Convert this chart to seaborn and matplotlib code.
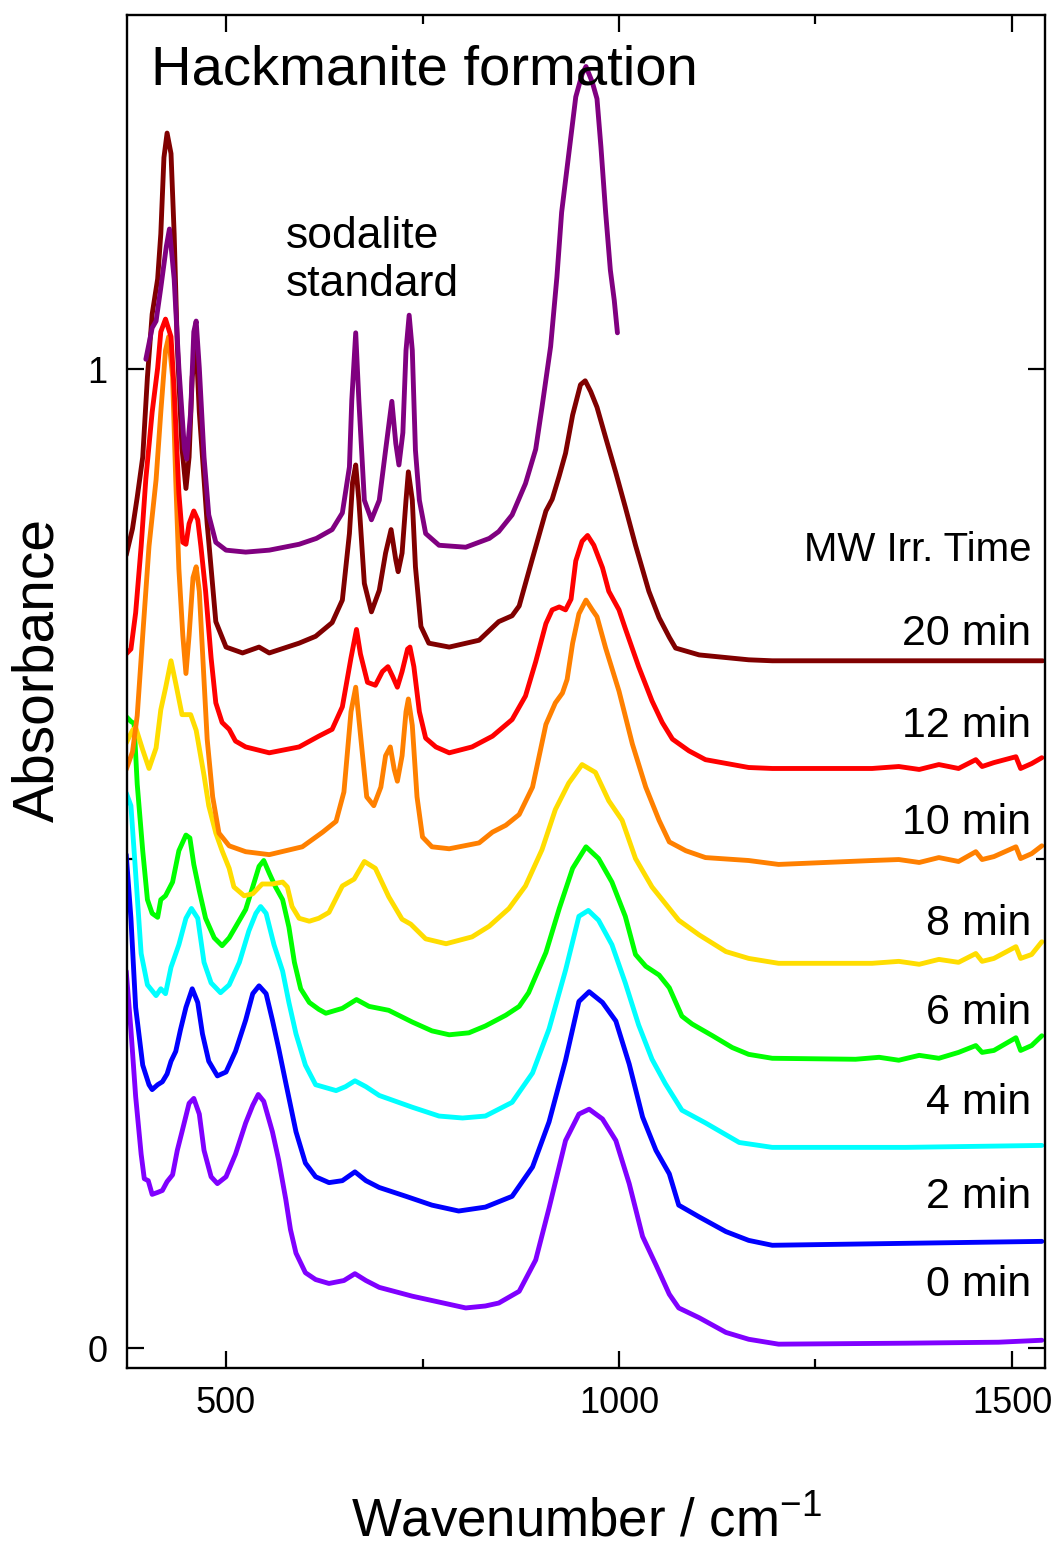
import numpy as np
import pandas as pd
import matplotlib
matplotlib.use("Agg")
import matplotlib.pyplot as plt
import seaborn as sns

# -----------------------------
# DATA (wavenumber / cm-1, absorbance)
# -----------------------------
wn_std = [398, 406, 411, 417, 424, 428, 434, 440, 447, 450, 455, 459, 462, 466, 472, 478, 487, 500, 525, 555,
          593, 615, 635, 648, 657, 660, 665, 669, 676, 685, 695, 703, 711, 716, 720, 725, 729, 733, 737, 741,
          746, 754, 771, 805, 835, 847, 864, 881, 894, 902, 913, 921, 927, 936, 945, 953, 958, 966, 972, 977,
          983, 989, 994, 998]
abs_std = [1.010, 1.042, 1.049, 1.083, 1.125, 1.143, 1.092, 1.001, 0.919, 0.908, 0.956, 1.038, 1.049, 1.001, 0.910,
           0.851, 0.823, 0.815, 0.813, 0.815, 0.821, 0.827, 0.836, 0.853, 0.900, 0.968, 1.037, 0.968, 0.866, 0.846,
           0.866, 0.917, 0.967, 0.924, 0.902, 0.935, 1.019, 1.055, 1.019, 0.917, 0.866, 0.832, 0.820, 0.818, 0.827,
           0.834, 0.851, 0.883, 0.918, 0.961, 1.023, 1.094, 1.160, 1.219, 1.278, 1.301, 1.309, 1.293, 1.276, 1.227,
           1.160, 1.101, 1.070, 1.037]

wn_20 = [373, 381, 387, 394, 400, 406, 413, 417, 421, 425, 430, 434, 438, 444, 449, 453, 457, 462, 466, 476,
         487, 500, 521, 542, 555, 593, 614, 635, 648, 657, 661, 665, 669, 676, 685, 695, 703, 710, 716, 719,
         724, 729, 732, 737, 741, 748, 758, 784, 822, 847, 864, 873, 889, 907, 915, 924, 932, 941, 951, 957,
         964, 972, 983, 996, 1008, 1021, 1038, 1051, 1064, 1072, 1102, 1165, 1195, 1365, 1539]
abs_20 = [0.810, 0.837, 0.869, 0.910, 0.992, 1.056, 1.092, 1.138, 1.216, 1.241, 1.220, 1.138, 1.024, 0.919, 0.878,
          0.910, 0.992, 1.025, 0.956, 0.842, 0.742, 0.716, 0.710, 0.716, 0.710, 0.720, 0.727, 0.741, 0.764, 0.832,
          0.884, 0.902, 0.866, 0.781, 0.752, 0.774, 0.812, 0.836, 0.805, 0.793, 0.812, 0.866, 0.895, 0.866, 0.798,
          0.737, 0.720, 0.716, 0.723, 0.742, 0.748, 0.758, 0.804, 0.855, 0.867, 0.891, 0.914, 0.953, 0.984, 0.988,
          0.977, 0.961, 0.930, 0.894, 0.859, 0.820, 0.773, 0.746, 0.726, 0.715, 0.708, 0.703, 0.702, 0.702, 0.702]

wn_12 = [373, 379, 385, 392, 398, 406, 413, 417, 423, 430, 434, 440, 445, 449, 453, 459, 464, 468, 474, 481,
         487, 495, 504, 512, 525, 555, 593, 618, 635, 648, 659, 666, 671, 680, 690, 699, 706, 712, 718, 724,
         731, 734, 739, 746, 754, 767, 784, 813, 839, 864, 881, 894, 907, 915, 924, 932, 939, 945, 953, 960,
         968, 979, 987, 1000, 1008, 1025, 1042, 1055, 1068, 1089, 1110, 1165, 1195, 1322, 1356, 1382, 1407, 1432,
         1454, 1462, 1477, 1505, 1511, 1525, 1538]
abs_12 = [0.709, 0.714, 0.751, 0.819, 0.888, 0.956, 1.001, 1.038, 1.051, 1.033, 0.979, 0.873, 0.823, 0.821, 0.842,
          0.855, 0.846, 0.819, 0.773, 0.705, 0.659, 0.639, 0.632, 0.620, 0.614, 0.608, 0.614, 0.625, 0.632, 0.655,
          0.705, 0.734, 0.709, 0.680, 0.677, 0.691, 0.696, 0.686, 0.675, 0.691, 0.714, 0.716, 0.696, 0.650, 0.623,
          0.614, 0.608, 0.614, 0.625, 0.642, 0.666, 0.701, 0.740, 0.754, 0.757, 0.754, 0.765, 0.804, 0.824, 0.830,
          0.820, 0.797, 0.773, 0.754, 0.735, 0.696, 0.661, 0.639, 0.622, 0.610, 0.601, 0.593, 0.592, 0.592, 0.594,
          0.591, 0.596, 0.592, 0.601, 0.594, 0.598, 0.604, 0.592, 0.597, 0.603]

wn_10 = [373, 381, 387, 394, 402, 411, 417, 423, 427, 432, 436, 440, 445, 449, 453, 458, 462, 466, 472, 476,
         483, 491, 504, 525, 555, 597, 623, 640, 650, 659, 665, 671, 679, 688, 697, 703, 709, 714, 718, 724,
         729, 732, 737, 743, 750, 762, 784, 822, 839, 856, 873, 890, 907, 919, 928, 934, 941, 949, 958, 966,
         972, 983, 1000, 1017, 1034, 1051, 1064, 1085, 1110, 1165, 1203, 1322, 1356, 1382, 1407, 1432, 1454, 1462,
         1477, 1505, 1511, 1525, 1538]
abs_10 = [0.591, 0.609, 0.646, 0.728, 0.819, 0.887, 0.956, 1.019, 1.033, 0.992, 0.887, 0.796, 0.728, 0.689, 0.728,
          0.787, 0.798, 0.773, 0.682, 0.622, 0.563, 0.526, 0.513, 0.507, 0.504, 0.512, 0.527, 0.538, 0.568, 0.650,
          0.675, 0.627, 0.563, 0.554, 0.573, 0.605, 0.614, 0.591, 0.579, 0.605, 0.650, 0.663, 0.636, 0.563, 0.522,
          0.512, 0.510, 0.516, 0.527, 0.534, 0.545, 0.573, 0.637, 0.659, 0.669, 0.683, 0.720, 0.750, 0.764, 0.754,
          0.747, 0.715, 0.671, 0.617, 0.573, 0.539, 0.517, 0.508, 0.501, 0.498, 0.494, 0.498, 0.499, 0.496, 0.501,
          0.497, 0.507, 0.499, 0.502, 0.512, 0.500, 0.505, 0.513]

wn_8 = [373, 381, 385, 394, 402, 411, 417, 423, 430, 436, 444, 455, 462, 472, 478, 487, 495, 504, 510, 523,
        534, 546, 559, 572, 578, 584, 593, 606, 618, 631, 648, 663, 676, 690, 707, 724, 735, 754, 780, 813,
        835, 860, 881, 902, 919, 936, 953, 970, 987, 1004, 1021, 1042, 1076, 1102, 1136, 1165, 1203, 1322, 1356,
        1382, 1407, 1432, 1454, 1462, 1477, 1505, 1511, 1525, 1538]
abs_8 = [0.618, 0.631, 0.634, 0.611, 0.592, 0.613, 0.652, 0.674, 0.702, 0.679, 0.647, 0.647, 0.631, 0.585, 0.554,
         0.526, 0.508, 0.490, 0.471, 0.462, 0.464, 0.474, 0.474, 0.476, 0.471, 0.451, 0.439, 0.436, 0.439, 0.445,
         0.472, 0.479, 0.497, 0.490, 0.461, 0.438, 0.433, 0.418, 0.413, 0.420, 0.431, 0.449, 0.472, 0.509, 0.550,
         0.577, 0.596, 0.588, 0.559, 0.539, 0.500, 0.471, 0.437, 0.422, 0.405, 0.398, 0.393, 0.393, 0.395, 0.392,
         0.397, 0.394, 0.403, 0.395, 0.398, 0.410, 0.398, 0.402, 0.415]

wn_6 = [373, 379, 383, 387, 394, 400, 406, 413, 417, 423, 432, 440, 449, 454, 459, 466, 474, 485, 495, 504,
        512, 525, 534, 542, 548, 555, 563, 572, 580, 587, 595, 606, 618, 627, 648, 666, 682, 707, 737, 762,
        784, 809, 830, 856, 873, 885, 907, 924, 941, 958, 974, 991, 1008, 1021, 1034, 1051, 1064, 1080, 1093,
        1119, 1144, 1165, 1195, 1301, 1331, 1356, 1382, 1407, 1432, 1454, 1462, 1477, 1505, 1511, 1525, 1538]
abs_6 = [0.645, 0.640, 0.638, 0.576, 0.508, 0.458, 0.444, 0.440, 0.458, 0.462, 0.476, 0.508, 0.524, 0.521, 0.494,
         0.467, 0.439, 0.419, 0.411, 0.419, 0.430, 0.448, 0.471, 0.492, 0.498, 0.485, 0.471, 0.458, 0.430, 0.394,
         0.367, 0.353, 0.346, 0.342, 0.347, 0.356, 0.349, 0.345, 0.333, 0.324, 0.320, 0.322, 0.329, 0.340, 0.349,
         0.363, 0.404, 0.449, 0.490, 0.512, 0.500, 0.476, 0.441, 0.402, 0.390, 0.381, 0.368, 0.339, 0.331, 0.319,
         0.307, 0.300, 0.296, 0.295, 0.297, 0.294, 0.299, 0.296, 0.302, 0.309, 0.302, 0.304, 0.317, 0.304, 0.309,
         0.319]

wn_4 = [373, 379, 385, 392, 400, 411, 417, 423, 430, 440, 449, 456, 464, 472, 481, 493, 504, 517, 529, 538,
        544, 551, 561, 572, 580, 589, 601, 614, 640, 652, 664, 678, 695, 737, 771, 801, 830, 864, 890, 911,
        932, 949, 961, 974, 991, 1008, 1025, 1042, 1059, 1080, 1110, 1153, 1195, 1365, 1538]
abs_4 = [0.567, 0.554, 0.485, 0.403, 0.371, 0.360, 0.367, 0.362, 0.389, 0.412, 0.439, 0.449, 0.439, 0.394, 0.373,
         0.363, 0.371, 0.394, 0.426, 0.444, 0.451, 0.444, 0.412, 0.385, 0.353, 0.321, 0.289, 0.269, 0.263, 0.267,
         0.273, 0.267, 0.258, 0.246, 0.237, 0.235, 0.237, 0.251, 0.281, 0.326, 0.386, 0.441, 0.447, 0.437, 0.412,
         0.373, 0.330, 0.295, 0.270, 0.243, 0.230, 0.210, 0.205, 0.205, 0.207]

wn_2 = [373, 379, 385, 394, 402, 406, 413, 419, 425, 430, 436, 442, 449, 457, 464, 470, 478, 489, 500, 512,
        525, 534, 542, 551, 559, 567, 576, 589, 601, 614, 631, 648, 664, 678, 695, 729, 762, 796, 830, 864,
        890, 911, 932, 949, 962, 979, 996, 1013, 1030, 1047, 1064, 1076, 1102, 1136, 1165, 1195, 1365, 1538]
abs_2 = [0.504, 0.439, 0.348, 0.289, 0.269, 0.264, 0.269, 0.272, 0.280, 0.293, 0.303, 0.325, 0.348, 0.367, 0.353,
         0.321, 0.293, 0.278, 0.282, 0.303, 0.335, 0.362, 0.370, 0.362, 0.335, 0.306, 0.271, 0.221, 0.189, 0.175,
         0.169, 0.171, 0.180, 0.171, 0.164, 0.155, 0.146, 0.140, 0.144, 0.155, 0.185, 0.231, 0.294, 0.354, 0.364,
         0.353, 0.334, 0.290, 0.236, 0.202, 0.178, 0.146, 0.134, 0.119, 0.110, 0.105, 0.107, 0.109]

wn_0 = [373, 379, 385, 392, 396, 401, 406, 413, 419, 425, 432, 438, 444, 453, 459, 466, 472, 481, 489, 500,
        512, 525, 534, 541, 548, 559, 567, 576, 582, 589, 601, 614, 631, 650, 664, 678, 695, 737, 771, 805,
        830, 847, 873, 894, 911, 932, 949, 962, 979, 996, 1013, 1030, 1047, 1064, 1076, 1102, 1136, 1165, 1203,
        1365, 1483, 1538]
abs_0 = [0.385, 0.325, 0.257, 0.198, 0.173, 0.171, 0.157, 0.159, 0.161, 0.170, 0.177, 0.202, 0.221, 0.250, 0.255,
         0.239, 0.202, 0.175, 0.168, 0.175, 0.198, 0.230, 0.248, 0.259, 0.252, 0.221, 0.192, 0.152, 0.121, 0.097,
         0.077, 0.070, 0.066, 0.069, 0.076, 0.069, 0.062, 0.053, 0.047, 0.041, 0.043, 0.046, 0.058, 0.090, 0.143,
         0.212, 0.239, 0.244, 0.234, 0.212, 0.168, 0.114, 0.085, 0.055, 0.041, 0.031, 0.016, 0.009, 0.004, 0.005,
         0.006, 0.008]

series_names = ["0 min", "2 min", "4 min", "6 min", "8 min", "10 min", "12 min", "20 min", "standard"]
series_colors = ["#8000ff", "#0000ff", "#00ffff", "#00ff00", "#ffdd00", "#ff8000", "#ff0000", "#800000", "#800080"]

# labels on the right: text, absorbance position
time_labels = ["20 min", "12 min", "10 min", "8 min", "6 min", "4 min", "2 min", "0 min"]
time_label_y = [0.729, 0.635, 0.536, 0.433, 0.342, 0.250, 0.154, 0.064]

# -----------------------------
# LONG TABLE FOR SEABORN
# -----------------------------
traces = [(wn_0, abs_0), (wn_2, abs_2), (wn_4, abs_4), (wn_6, abs_6), (wn_8, abs_8),
          (wn_10, abs_10), (wn_12, abs_12), (wn_20, abs_20), (wn_std, abs_std)]
frames = []
for name, (w, a) in zip(series_names, traces):
    frames.append(pd.DataFrame({"wavenumber": w, "absorbance": a, "series": name}))
df = pd.concat(frames, ignore_index=True)

# -----------------------------
# PLOT
# -----------------------------
sns.set_theme(style="ticks")
plt.rcParams["font.family"] = ["Liberation Sans", "DejaVu Sans"]
plt.rcParams["mathtext.fontset"] = "custom"
plt.rcParams["mathtext.rm"] = "Liberation Sans"
plt.rcParams["mathtext.it"] = "Liberation Sans:italic"
plt.rcParams["mathtext.bf"] = "Liberation Sans:bold"

fig = plt.figure(figsize=(10.61, 15.46), dpi=100)
ax = fig.add_axes([0.1197, 0.1151, 0.8652, 0.8752])

sns.lineplot(data=df, x="wavenumber", y="absorbance", hue="series",
             hue_order=series_names, palette=series_colors,
             estimator=None, sort=False, linewidth=3.5, legend=False, ax=ax)

ax.set_xlim(374, 1542)
ax.set_ylim(-0.0204, 1.3616)
ax.set_xticks([500, 1000, 1500])
ax.set_xticks([750, 1250], minor=True)
ax.set_yticks([0, 1])
ax.set_yticks([0.5], minor=True)

ax.tick_params(which="both", direction="in", top=True, right=True, width=1.6, color="black")
ax.tick_params(which="major", length=12.5, labelsize=26, labelcolor="black")
ax.tick_params(axis="x", which="major", pad=13)
ax.tick_params(axis="y", which="major", pad=14)
ax.tick_params(which="minor", length=6.5)
for s in ax.spines.values():
    s.set_linewidth(1.7)
    s.set_color("black")

ax.set_xlabel(r"Wavenumber / cm$^{-1}$", fontsize=38, color="black", labelpad=55)
ax.set_ylabel("Absorbance", fontsize=41, color="black")
ax.yaxis.set_label_coords(-0.067, 0.516)

ax.text(405, 1.305, "Hackmanite formation", fontsize=40.5, ha="left", va="center", color="black")
ax.text(576, 1.111, "sodalite\nstandard", fontsize=32, ha="left", va="center",
        linespacing=1.22, color="black")
ax.text(1525, 0.815, "MW Irr. Time", fontsize=29, ha="right", va="center", color="black")
for lab, yv in zip(time_labels, time_label_y):
    ax.text(1524, yv, lab, fontsize=31, ha="right", va="center", color="black")

fig.savefig("out.png", dpi=100)
